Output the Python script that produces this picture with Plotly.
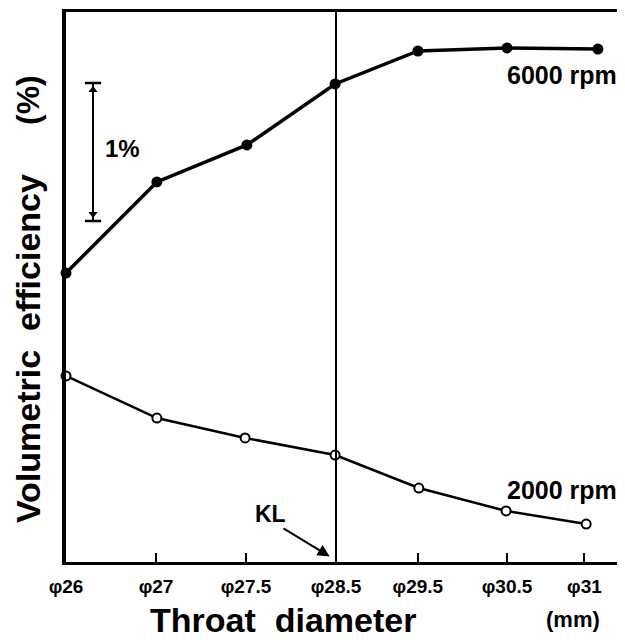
import plotly.graph_objects as go

# Data (relative units: 1.0 = 1 % volumetric efficiency; axis positions by tick index)
tick_labels = ["φ26", "φ27", "φ27.5", "φ28.5", "φ29.5", "φ30.5", "φ31"]
tick_pos = [0.0, 1.0, 2.0, 3.0, 3.91, 4.9, 5.76]

x_6000 = [0.0, 1.01, 2.01, 2.99, 3.91, 4.9, 5.91]
y_6000 = [2.094, 2.754, 3.022, 3.464, 3.703, 3.725, 3.717]

x_2000 = [0.0, 1.01, 1.99, 2.99, 3.92, 4.89, 5.78]
y_2000 = [1.348, 1.043, 0.899, 0.775, 0.536, 0.370, 0.275]

kl_x = 3.0
scale_x = 0.3
scale_y = [2.471, 3.471]

FONT = "Liberation Sans"

fig = go.Figure()

fig.add_trace(go.Scatter(
    x=x_6000, y=y_6000, mode="lines+markers",
    line=dict(color="black", width=3.5),
    marker=dict(symbol="circle", size=11, color="black"),
    showlegend=False, cliponaxis=False))

fig.add_trace(go.Scatter(
    x=x_2000, y=y_2000, mode="lines+markers",
    line=dict(color="black", width=2.5),
    marker=dict(symbol="circle", size=9, color="white", line=dict(color="black", width=2)),
    showlegend=False, cliponaxis=False))

# KL vertical line
fig.add_shape(type="line", xref="x", yref="paper", x0=kl_x, x1=kl_x, y0=0, y1=1,
              line=dict(color="black", width=2))

# 1% scale bar
fig.add_shape(type="line", x0=scale_x, x1=scale_x, y0=scale_y[0], y1=scale_y[1],
              line=dict(color="black", width=2))
for yy in scale_y:
    fig.add_shape(type="line", x0=scale_x - 0.09, x1=scale_x + 0.09, y0=yy, y1=yy,
                  line=dict(color="black", width=2.5))
fig.add_trace(go.Scatter(
    x=[scale_x, scale_x], y=[scale_y[1] - 0.05, scale_y[0] + 0.05], mode="markers",
    marker=dict(symbol=["triangle-up", "triangle-down"], size=8, color="black"),
    showlegend=False))

fig.add_annotation(x=scale_x + 0.11, y=3.0, text="<b>1%</b>", showarrow=False,
                   xanchor="left", font=dict(family=FONT, size=24, color="black"))

# KL label and arrow
fig.add_annotation(x=2.27, y=0.35, text="<b>KL</b>", showarrow=False,
                   font=dict(family=FONT, size=23, color="black"))
fig.add_annotation(x=2.93, y=0.04, ax=2.4, ay=0.25, axref="x", ayref="y",
                   text="", showarrow=True, arrowhead=2, arrowsize=1.2,
                   arrowwidth=2, arrowcolor="black")

# series labels
fig.add_annotation(x=6.14, y=3.53, xanchor="right", text="<b>6000 rpm</b>", showarrow=False,
                   font=dict(family=FONT, size=25, color="black"))
fig.add_annotation(x=6.14, y=0.525, xanchor="right", text="<b>2000 rpm</b>", showarrow=False,
                   font=dict(family=FONT, size=25, color="black"))

# axis titles
fig.add_annotation(xref="paper", yref="paper", x=-0.068, y=0.389,
                   xanchor="center", yanchor="middle",
                   text="<b>Volumetric  efficiency</b>", textangle=-90, showarrow=False,
                   font=dict(family=FONT, size=34, color="black"))
fig.add_annotation(xref="paper", yref="paper", x=-0.068, y=0.84,
                   xanchor="center", yanchor="middle",
                   text="<b>(%)</b>", textangle=-90, showarrow=False,
                   font=dict(family=FONT, size=32, color="black"))
fig.add_annotation(xref="paper", yref="paper", x=0.388, y=-0.105,
                   xanchor="center", yanchor="middle",
                   text="<b>Throat  diameter</b>", showarrow=False,
                   font=dict(family=FONT, size=34, color="black"))
fig.add_annotation(xref="paper", yref="paper", x=0.907, y=-0.105,
                   xanchor="center", yanchor="middle",
                   text="<b>(mm)</b>", showarrow=False,
                   font=dict(family=FONT, size=22, color="black"))

# page body has an 8px default margin, so the figure is sized to fit the window
fig.update_layout(
    width=617, height=632,
    margin=dict(l=58, r=0, t=4, b=78, autoexpand=False),
    plot_bgcolor="white", paper_bgcolor="white",
    xaxis=dict(range=[0, 559 / 90], tickvals=tick_pos,
               ticktext=["<b>%s</b>" % t for t in tick_labels],
               ticks="inside", ticklen=9, tickwidth=2, tickcolor="black",
               ticklabelstandoff=5,
               showline=True, linewidth=3, linecolor="black", mirror=True,
               showgrid=False, zeroline=False,
               tickfont=dict(family=FONT, size=19, color="black")),
    yaxis=dict(range=[0, 550 / 138], showticklabels=False, ticks="",
               showline=True, linewidth=3.5, linecolor="black",
               showgrid=False, zeroline=False),
)

fig.write_html("out.html")
